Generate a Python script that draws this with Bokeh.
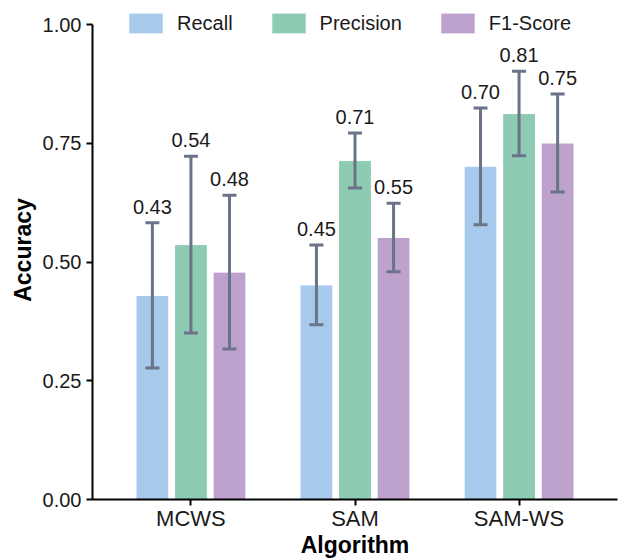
from bokeh.plotting import figure
from bokeh.models import (ColumnDataSource, Range1d, FixedTicker, Legend, LegendItem,
                          Whisker, LabelSet)
from bokeh.core.properties import value
from bokeh.embed import file_html
from bokeh.resources import INLINE

# ---- data ----
algorithms = ["MCWS", "SAM", "SAM-WS"]
metrics = ["Recall", "Precision", "F1-Score"]
recall_mean = [0.430, 0.452, 0.702]
precision_mean = [0.537, 0.714, 0.813]
f1_mean = [0.479, 0.552, 0.751]
recall_err = [0.153, 0.084, 0.123]
precision_err = [0.186, 0.058, 0.089]
f1_err = [0.162, 0.072, 0.103]
y_ticks = [0.0, 0.25, 0.5, 0.75, 1.0]
y_tick_labels = ["0.00", "0.25", "0.50", "0.75", "1.00"]

colors = ["#a7caec", "#8ecbb3", "#bda2cd"]
err_color = "#6b7388"
FONT = "Liberation Sans"

p = figure(width=618, height=560, output_backend="svg", toolbar_location=None,
           x_range=Range1d(0.4, 3.6), y_range=Range1d(0, 1.0512),
           min_border_left=92, min_border_right=1, min_border_top=0, min_border_bottom=61)
p.outline_line_color = None
p.grid.visible = False
p.background_fill_color = "white"

offsets = [-0.235, 0.0, 0.235]
series = [(recall_mean, recall_err), (precision_mean, precision_err), (f1_mean, f1_err)]
renderers = []
for k, (means, errs) in enumerate(series):
    xs = [i + 1 + offsets[k] for i in range(len(algorithms))]
    src = ColumnDataSource(dict(
        x=xs, top=means,
        upper=[m + e for m, e in zip(means, errs)],
        lower=[m - e for m, e in zip(means, errs)],
        label=["%.2f" % m for m in means],
    ))
    r = p.vbar(x="x", top="top", width=0.2, bottom=0, source=src,
               fill_color=colors[k], line_color="white", line_width=1)
    renderers.append(r)
    w = Whisker(base="x", upper="upper", lower="lower", source=src,
                line_color=err_color, line_width=3, level="annotation")
    w.upper_head.size = 14
    w.lower_head.size = 14
    w.upper_head.line_color = err_color
    w.lower_head.line_color = err_color
    w.upper_head.line_width = 3
    w.lower_head.line_width = 3
    p.add_layout(w)
    labels = LabelSet(x="x", y="upper", text="label", source=src,
                      text_align="center", text_baseline="alphabetic", y_offset=9,
                      text_font=value(FONT), text_font_size=value("20px"),
                      text_color="#1a1a1a")
    p.add_layout(labels)

legend = Legend(items=[LegendItem(label=metrics[k], renderers=[renderers[k]]) for k in range(3)],
                orientation="horizontal", location=(32, 463),
                glyph_width=43, glyph_height=26, label_standoff=10, spacing=34,
                padding=0, margin=0, border_line_alpha=0, background_fill_alpha=0,
                label_text_font=FONT, label_text_font_size="20px", label_text_color="#1a1a1a")
p.add_layout(legend)

# axes
p.xaxis.ticker = FixedTicker(ticks=[i + 1 for i in range(len(algorithms))])
p.xaxis.major_label_overrides = {i + 1: a for i, a in enumerate(algorithms)}
p.yaxis.ticker = FixedTicker(ticks=y_ticks)
p.yaxis.major_label_overrides = {t: l for t, l in zip(y_ticks, y_tick_labels)}
p.yaxis.bounds = (0, 1)
p.xaxis.axis_label = "Algorithm"
p.yaxis.axis_label = "Accuracy"
for ax in (p.xaxis, p.yaxis):
    ax.axis_line_width = 2
    ax.axis_line_color = "black"
    ax.major_tick_line_width = 2
    ax.major_tick_line_color = "black"
    ax.major_tick_out = 6
    ax.major_tick_in = 0
    ax.minor_tick_line_color = None
    ax.major_label_text_font = FONT
    ax.major_label_text_color = "#1a1a1a"
    ax.axis_label_text_font = FONT
    ax.axis_label_text_font_style = "bold"
    ax.axis_label_text_font_size = "23px"
    ax.axis_label_text_color = "black"
p.xaxis.major_label_text_font_size = "22px"
p.yaxis.major_label_text_font_size = "20px"
p.xaxis.major_label_standoff = 0
p.yaxis.major_label_standoff = 5
p.xaxis.axis_label_standoff = -2
p.yaxis.axis_label_standoff = 4

open("out.html", "w").write(file_html(p, INLINE))
